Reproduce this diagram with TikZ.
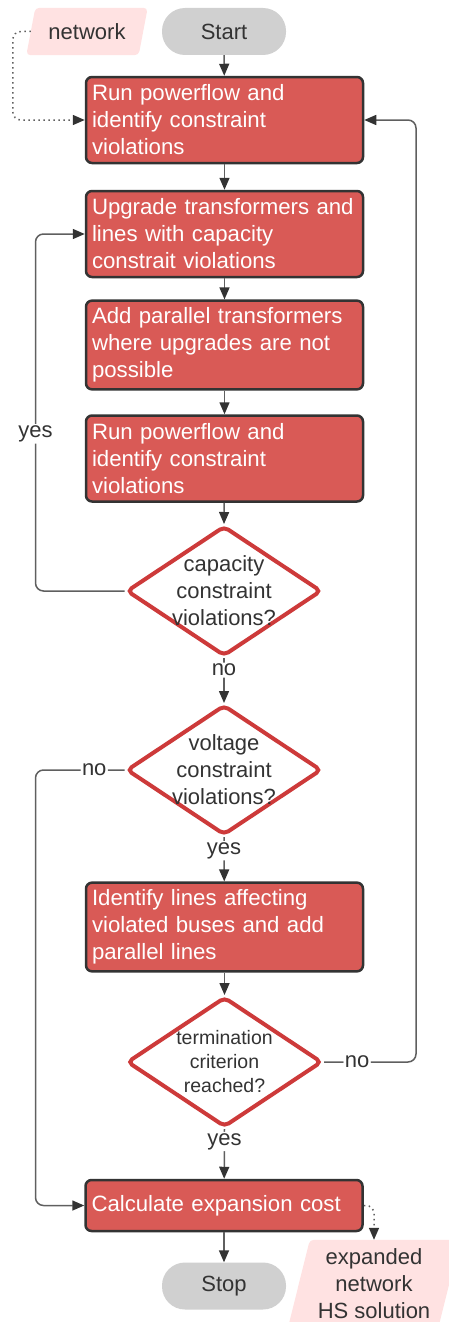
\documentclass[tikz,border=0pt]{standalone}
\usepackage{fontspec}
\setmainfont{Liberation Sans}
\usetikzlibrary{arrows.meta, positioning, shapes.geometric, backgrounds}
\definecolor{boxred}{RGB}{217,90,86}
\definecolor{boxline}{RGB}{51,51,51}
\definecolor{decred}{RGB}{205,58,58}
\definecolor{termgray}{RGB}{208,208,208}
\definecolor{datapink}{RGB}{255,226,226}
\definecolor{linegray}{RGB}{95,95,95}
\definecolor{txtdark}{RGB}{51,51,51}

\tikzset{
  stepbox/.style={draw=boxline, line width=2.5pt, fill=boxred, rounded corners=6pt,
    text=white, minimum width=277pt, minimum height=86pt, text width=265pt,
    inner xsep=6pt, inner ysep=7pt, align=left, font=\fontsize{22.2}{27}\selectfont},
  terminal/.style={fill=termgray, rounded corners=23pt, minimum width=124pt,
    minimum height=47pt, text=txtdark, font=\fontsize{22}{27}\selectfont},
  decision/.style={diamond, draw=decred, line width=4pt, fill=white, rounded corners=5pt,
    minimum width=195pt, minimum height=130pt, inner sep=0pt},
  dectext/.style={text=txtdark, align=center, font=\fontsize{22}{27}\selectfont},
  datatext/.style={text=txtdark, align=center, inner sep=0pt, font=\fontsize{22}{27}\selectfont},
  lbl/.style={fill=white, text=txtdark, inner sep=1.5pt, font=\fontsize{22}{27}\selectfont},
  flow/.style={draw=linegray, line width=1.5pt, rounded corners=8pt,
    -{Triangle[length=12pt, width=10pt, color=txtdark]}},
  dataflow/.style={flow, dash pattern=on 1.5pt off 3.5pt}
}

\begin{document}
\begin{tikzpicture}[x=1pt, y=-1pt]
  \useasboundingbox (0,0) rectangle (449,1322);

  % Blocks
  \node[terminal] (start) at (224,31.5) {Start};
  \node[datatext, minimum width=112pt, minimum height=47pt] (net) at (87,31.5) {network};

  \node[stepbox] (b1) at (224.5,120) {Run powerflow and\\identify constraint\\violations};
  \node[stepbox] (b2) at (224.5,234) {Upgrade transformers and\\lines with capacity\\constrait violations};
  \node[stepbox] (b3) at (224.5,345) {Add parallel transformers\\where upgrades are not\\possible};
  \node[stepbox] (b4) at (224.5,458.5) {Run powerflow and\\identify constraint\\violations};

  \node[decision] (d1) at (224,591) {};
  \node[dectext] at (d1) {capacity\\constraint\\violations?};
  \node[decision] (d2) at (224,770) {};
  \node[dectext] at (d2) {voltage\\constraint\\violations?};

  \node[stepbox] (b5) at (224.5,927) {Identify lines affecting\\violated buses and add\\parallel lines};

  \node[decision] (d3) at (224.5,1062) {};
  \node[dectext, font=\fontsize{19.5}{24}\selectfont] at (d3) {termination\\criterion\\reached?};

  \node[stepbox, minimum height=51pt] (b6) at (224,1205.5) {Calculate expansion cost};
  \node[terminal] (stop) at (224,1286) {Stop};
  \node[datatext, minimum width=150pt, minimum height=88pt] (exp) at (374,1284) {expanded\\network\\HS solution};

  % data shapes
  \begin{scope}[on background layer]
    \fill[datapink, rounded corners=4pt] ([xshift=4.5pt]net.north west) -- ([xshift=4.5pt]net.north east)
      -- ([xshift=-4.5pt]net.south east) -- ([xshift=-4.5pt]net.south west) -- cycle;
    \fill[datapink, rounded corners=4pt] ([xshift=11pt]exp.north west) -- ([xshift=11pt]exp.north east)
      -- ([xshift=-11pt]exp.south east) -- ([xshift=-11pt]exp.south west) -- cycle;
  \end{scope}

  % Arrows
  \draw[flow] (start) -- (b1);
  \draw[flow] (b1) -- (b2);
  \draw[flow] (b2) -- (b3);
  \draw[flow] (b3) -- (b4);
  \draw[flow] (b4) -- (d1.north);
  \draw[flow] (d1.south) -- node[lbl, pos=0.27] {no} (d2.north);
  \draw[flow] (d2.south) -- node[lbl, pos=0.31] {yes} (b5);
  \draw[flow] (b5) -- (d3.north);
  \draw[flow] (d3.south) -- node[lbl, pos=0.25] {yes} (b6);
  \draw[flow] (b6) -- (stop);

  \draw[flow] (d1.west) -- ++(-89,0) |- node[lbl, pos=0.22] {yes} (b2.west);
  \draw[flow] (d2.west) -- node[lbl, pos=0.34] {no} ++(-89,0) |- (b6.west);
  \draw[flow] (d3.east) -- node[lbl, pos=0.36] {no} ++(92,0) |- (b1.east);

  \draw[dataflow] (net.west) -- ++(-18,0) |- (b1.west);
  \draw[dataflow] (b6.east) -| (exp.north);
\end{tikzpicture}
\end{document}
